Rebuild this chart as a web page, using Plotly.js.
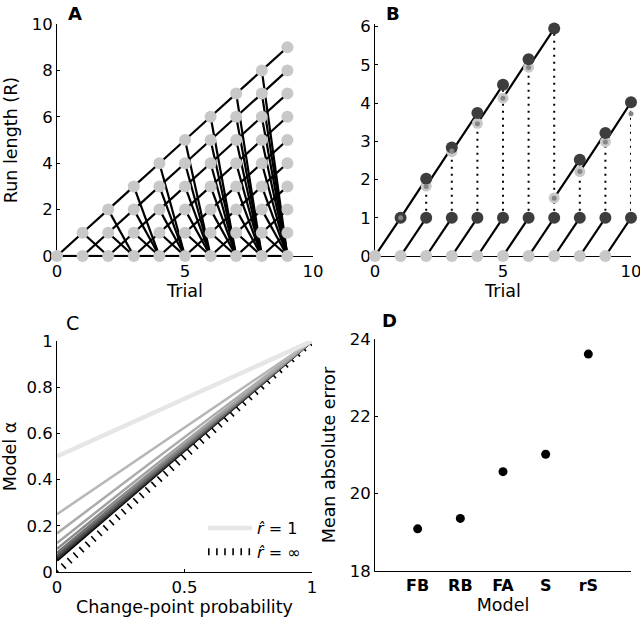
<!DOCTYPE html>
<html><head><meta charset="utf-8">
<script src="https://cdn.plot.ly/plotly-3.0.1.min.js"></script>
<style>html,body{margin:0;padding:0;background:#fff}#chart{width:640px;height:623px}</style>
</head><body><div id="chart"></div>
<script>
// ---------- Panel A: run-length lattice ----------
const trialsA = [0, 1, 2, 3, 4, 5, 6, 7, 8, 9];

// ---------- Panel B ----------
const baseTrialsB = [0, 1, 2, 3, 4, 5, 6, 7, 8, 9];        // run length 0 (light)
const oneTrialsB = [1, 2, 3, 4, 5, 6, 7, 8, 9, 10];        // run length 1 (dark)
const topTrialsB = [2, 3, 4, 5, 6, 7, 8, 9, 10];           // grown run length (dark)
const topValuesB = [2.02, 2.84, 3.74, 4.48, 5.15, 5.95, 2.52, 3.22, 4.02];
const estTrialsB = [1, 2, 3, 4, 5, 6, 7, 8, 9];            // estimate (light ring)
const estValuesB = [1.0, 1.83, 2.73, 3.47, 4.13, 4.94, 1.52, 2.21, 2.99];
const approxTrialsB = [1, 2, 3, 4, 5, 6, 7, 8, 9, 10];     // approximation (mid dot)
const approxValuesB = [1.0, 1.82, 2.75, 3.46, 4.13, 4.93, 1.51, 2.21, 2.98, 3.72];

// ---------- Panel C ----------
const cpProb = [0, 1];
const alphaIntercepts = [0.5, 0.25, 0.167, 0.125, 0.1, 0.083, 0.071, 0.0625, 0.056, 0.05];
const alphaEnd = 1;
const lineGrays = [230, 182, 172, 162, 138, 112, 86, 60, 34, 0];

// ---------- Panel D ----------
const models = ['FB', 'RB', 'FA', 'S', 'rS'];
const maeValues = [19.09, 19.36, 20.57, 21.02, 23.61];

const FONT = 'DejaVu Sans, Liberation Sans, Arial, sans-serif';
const LIGHT = '#c8c8c8', DARK = '#3d3d3d', MID = '#858585';

const traces = [];

// Panel A edges
const axX = [], axY = [];
for (let i = 0; i < trialsA.length - 1; i++) {
  const t = trialsA[i], tn = trialsA[i + 1];
  for (let r = 0; r <= t; r++) {
    axX.push(t, tn, null); axY.push(r, r + 1, null);
    axX.push(t, tn, null); axY.push(r, 0, null);
  }
}
traces.push({x: axX, y: axY, xaxis: 'x', yaxis: 'y', mode: 'lines', cliponaxis: false,
  line: {color: '#000', width: 2.2}, hoverinfo: 'skip', showlegend: false});
const anX = [], anY = [];
trialsA.forEach(t => { for (let r = 0; r <= t; r++) { anX.push(t); anY.push(r); } });
traces.push({x: anX, y: anY, xaxis: 'x', yaxis: 'y', mode: 'markers', cliponaxis: false,
  marker: {color: LIGHT, size: 12}, showlegend: false});

// Panel B
const rsX = [], rsY = [];
baseTrialsB.forEach((t, i) => { rsX.push(t, oneTrialsB[i], null); rsY.push(0, 1, null); });
traces.push({x: rsX, y: rsY, xaxis: 'x2', yaxis: 'y2', mode: 'lines', cliponaxis: false,
  line: {color: '#000', width: 2.2}, showlegend: false});
const gX = [], gY = [];
topTrialsB.forEach((t, k) => { gX.push(estTrialsB[k], t, null); gY.push(estValuesB[k], topValuesB[k], null); });
traces.push({x: gX, y: gY, xaxis: 'x2', yaxis: 'y2', mode: 'lines', cliponaxis: false,
  line: {color: '#000', width: 2.2}, showlegend: false});
const dX = [], dY = [];
topTrialsB.forEach((t, k) => { dX.push(t, t, null); dY.push(1, topValuesB[k], null); });
traces.push({x: dX, y: dY, xaxis: 'x2', yaxis: 'y2', mode: 'lines', cliponaxis: false,
  line: {color: '#000', width: 2, dash: '2px,5px'}, showlegend: false});
traces.push({x: baseTrialsB, y: baseTrialsB.map(() => 0), xaxis: 'x2', yaxis: 'y2', mode: 'markers', cliponaxis: false,
  marker: {color: LIGHT, size: 12}, showlegend: false});
traces.push({x: estTrialsB, y: estValuesB, xaxis: 'x2', yaxis: 'y2', mode: 'markers', cliponaxis: false,
  marker: {color: LIGHT, size: 11}, showlegend: false});
traces.push({x: oneTrialsB, y: oneTrialsB.map(() => 1), xaxis: 'x2', yaxis: 'y2', mode: 'markers', cliponaxis: false,
  marker: {color: DARK, size: 12}, showlegend: false});
traces.push({x: topTrialsB, y: topValuesB, xaxis: 'x2', yaxis: 'y2', mode: 'markers', cliponaxis: false,
  marker: {color: DARK, size: 12}, showlegend: false});
traces.push({x: approxTrialsB, y: approxValuesB, xaxis: 'x2', yaxis: 'y2', mode: 'markers', cliponaxis: false,
  marker: {color: MID, size: 5}, showlegend: false});

// Panel C
traces.push({x: cpProb, y: cpProb, xaxis: 'x3', yaxis: 'y3', mode: 'lines', cliponaxis: false,
  line: {color: '#000', width: 7, dash: '1.6px,6.5px'}, name: '<i>r̂</i> = ∞', legendrank: 2, showlegend: true});
for (let i = alphaIntercepts.length - 1; i >= 0; i--) {
  const g = lineGrays[i];
  traces.push({x: cpProb, y: [alphaIntercepts[i], alphaEnd], xaxis: 'x3', yaxis: 'y3', mode: 'lines', cliponaxis: false,
    line: {color: `rgb(${g},${g},${g})`, width: i === 0 ? 4.5 : 2.5},
    name: i === 0 ? '<i>r̂</i> = 1' : '', legendrank: 1, showlegend: i === 0});
}

// Panel D
traces.push({x: models, y: maeValues, xaxis: 'x4', yaxis: 'y4', mode: 'markers', cliponaxis: false,
  marker: {color: '#000', size: 9}, showlegend: false});

function ax(extra) {
  return Object.assign({
    showline: true, linecolor: '#000', linewidth: 1, ticks: 'inside', ticklen: 3, tickcolor: '#000',
    showgrid: false, zeroline: false, layer: 'below traces', automargin: false, ticklabeloverflow: 'allow',
    tickfont: {family: FONT, size: 16.5, color: '#000'}
  }, extra);
}
const tf = {family: FONT, size: 17.5, color: '#000'};

const layout = {
  width: 640, height: 623, margin: {l: 0, r: 0, t: 0, b: 0},
  paper_bgcolor: '#fff', plot_bgcolor: 'rgba(0,0,0,0)',
  font: {family: FONT, color: '#000'},
  xaxis: ax({domain: [57/640, 313/640], range: [0, 10], tickvals: [0, 5, 10], anchor: 'y',
    title: {text: 'Trial', font: tf, standoff: 3}}),
  yaxis: ax({domain: [1 - 256/623, 1 - 24/623], range: [0, 10], tickvals: [0, 2, 4, 6, 8, 10], anchor: 'x',
    title: {text: 'Run length (R)', font: tf, standoff: 9}}),
  xaxis2: ax({domain: [375/640, 631/640], range: [0, 10], tickvals: [0, 5, 10], anchor: 'y2',
    title: {text: 'Trial', font: tf, standoff: 3}}),
  yaxis2: ax({domain: [1 - 256/623, 1 - 24/623], range: [0, 6.07], tickvals: [0, 1, 2, 3, 4, 5, 6], anchor: 'x2'}),
  xaxis3: ax({domain: [57/640, 312/640], range: [0, 1], tickvals: [0, 0.5, 1], anchor: 'y3',
    title: {text: 'Change-point probability', font: tf, standoff: 3}}),
  yaxis3: ax({domain: [1 - 572/623, 1 - 341/623], range: [0, 1], tickvals: [0, 0.2, 0.4, 0.6, 0.8, 1], anchor: 'x3',
    title: {text: 'Model α', font: tf, standoff: 9}}),
  xaxis4: ax({domain: [375/640, 631/640], type: 'category', range: [-1, 5], anchor: 'y4',
    tickfont: {family: FONT, size: 16, color: '#000', weight: 'bold'}, ticks: '',
    title: {text: 'Model', font: tf, standoff: 3}}),
  yaxis4: ax({domain: [1 - 571/623, 1 - 339/623], range: [18, 24], tickvals: [18, 20, 22, 24], anchor: 'x4',
    title: {text: 'Mean absolute error', font: tf, standoff: 9}}),
  showlegend: true,
  legend: {x: 203/640, y: 1 - 511/623, xanchor: 'left', yanchor: 'top', bgcolor: 'rgba(0,0,0,0)',
    font: {family: FONT, size: 16, color: '#000'}, tracegroupgap: 0, itemwidth: 44},
  annotations: [
    {text: '<b>A</b>', x: 66/640, y: 1 - 1/623, xref: 'paper', yref: 'paper', xanchor: 'left', yanchor: 'top', showarrow: false, font: {family: FONT, size: 18}},
    {text: '<b>B</b>', x: 384/640, y: 1 - 1/623, xref: 'paper', yref: 'paper', xanchor: 'left', yanchor: 'top', showarrow: false, font: {family: FONT, size: 18}},
    {text: 'C', x: 64/640, y: 1 - 310/623, xref: 'paper', yref: 'paper', xanchor: 'left', yanchor: 'top', showarrow: false, font: {family: FONT, size: 19}},
    {text: '<b>D</b>', x: 380/640, y: 1 - 308/623, xref: 'paper', yref: 'paper', xanchor: 'left', yanchor: 'top', showarrow: false, font: {family: FONT, size: 18}}
  ]
};

Plotly.newPlot('chart', traces, layout, {staticPlot: true, displayModeBar: false});
</script></body></html>
